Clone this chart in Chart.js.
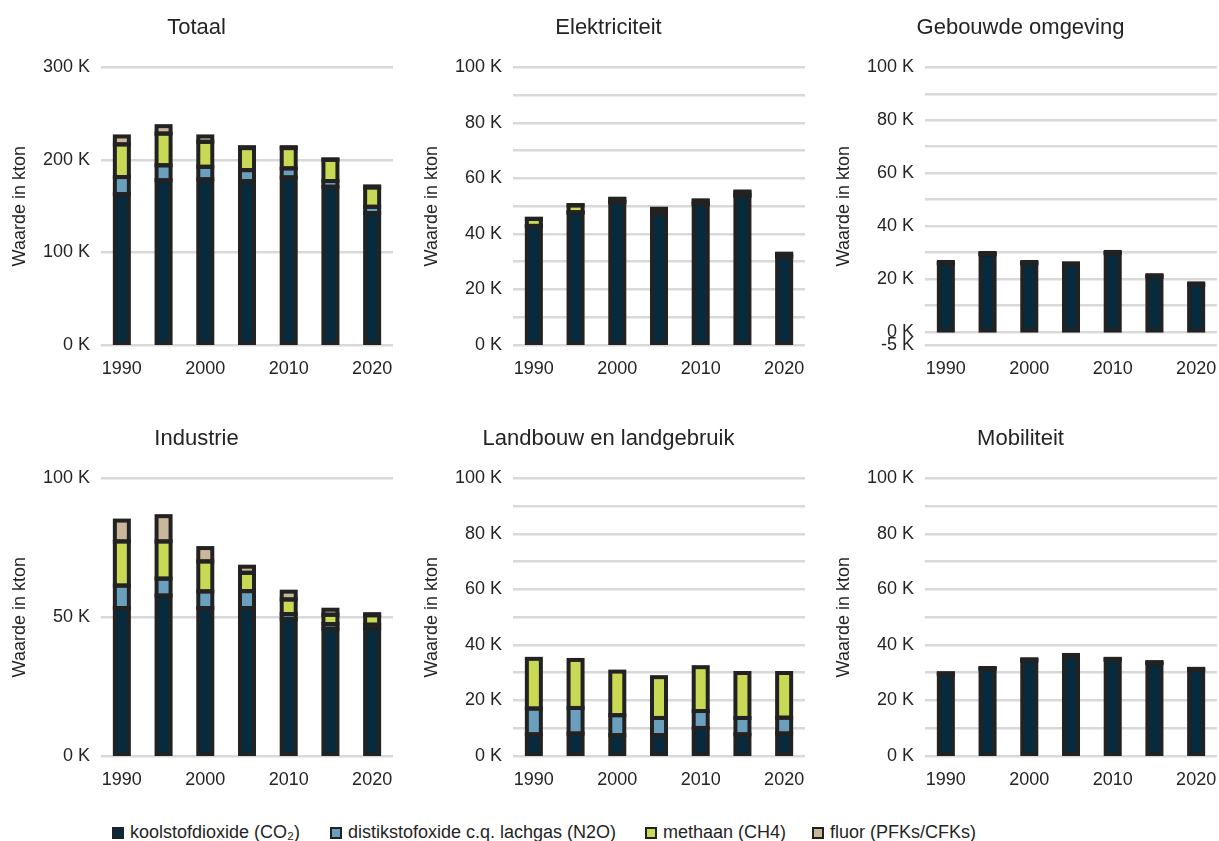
<!DOCTYPE html>
<html>
<head>
<meta charset="utf-8">
<script src="https://cdn.jsdelivr.net/npm/chart.js@4.4.1/dist/chart.umd.min.js"></script>
<style>
  html, body { margin: 0; padding: 0; background: #ffffff; overflow: hidden; width: 1219px; height: 841px; }
  .panel { position: absolute; width: 400px; height: 385px; }
  .legend-item { position: absolute; top: 822px; font: 18px 'Liberation Sans', Arial, sans-serif; color: #252423; white-space: nowrap; line-height: 20px; }
  .swatch { position: absolute; top: 5px; width: 12px; height: 12px; box-sizing: border-box; border: 2px solid #222222; }
</style>
</head>
<body>
<div class="panel" style="left:0px;top:0px"><canvas id="c0" width="400" height="385"></canvas></div>
<div class="panel" style="left:412px;top:0px"><canvas id="c1" width="400" height="385"></canvas></div>
<div class="panel" style="left:824px;top:0px"><canvas id="c2" width="400" height="385"></canvas></div>
<div class="panel" style="left:0px;top:411px"><canvas id="c3" width="400" height="385"></canvas></div>
<div class="panel" style="left:412px;top:411px"><canvas id="c4" width="400" height="385"></canvas></div>
<div class="panel" style="left:824px;top:411px"><canvas id="c5" width="400" height="385"></canvas></div>
<div id="legend"></div>
<script>
// ---------- categories & labels ----------
const years = ['1990', '1995', '2000', '2005', '2010', '2015', '2020'];
const xTickLabels = ['1990', '', '2000', '', '2010', '', '2020'];
const seriesNames = ['koolstofdioxide (CO₂)', 'distikstofoxide c.q. lachgas (N2O)', 'methaan (CH4)', 'fluor (PFKs/CFKs)'];
const seriesColors = ['#062b3f', '#6a9fbe', '#c9d855', '#c9b79c'];
const panelTitles = ['Totaal', 'Elektriciteit', 'Gebouwde omgeving', 'Industrie', 'Landbouw en landgebruik', 'Mobiliteit'];
const yAxisTitle = 'Waarde in kton';

// ---------- tick values & labels (in K = duizend kton) ----------
const ticksTotaal = [0, 100, 200, 300];
const tickLabelsTotaal = ['0 K', '100 K', '200 K', '300 K'];
const ticks100 = [0, 10, 20, 30, 40, 50, 60, 70, 80, 90, 100];
const tickLabels100 = ['0 K', '', '20 K', '', '40 K', '', '60 K', '', '80 K', '', '100 K'];
const ticksGebouwd = [-5, 0, 10, 20, 30, 40, 50, 60, 70, 80, 90, 100];
const tickLabelsGebouwd = ['-5 K', '0 K', '', '20 K', '', '40 K', '', '60 K', '', '80 K', '', '100 K'];
const ticksIndustrie = [0, 50, 100];
const tickLabelsIndustrie = ['0 K', '50 K', '100 K'];

// ---------- series values (in K kton) ----------
// Totaal
const totaalCO2    = [163, 178, 179, 177, 181.1, 171, 142.6];
const totaalN2O    = [18.5, 16.2, 13.6, 12, 9.8, 6.2, 6.8];
const totaalCH4    = [35.3, 34.3, 27, 23.8, 21.9, 23.0, 20.9];
const totaalFluor  = [8.6, 8.0, 5.8, 1.0, 1.0, 0.4, 1.1];
// Elektriciteit
const elekCO2      = [42.8, 47.7, 51.4, 47.3, 50.8, 53.8, 31.8];
const elekN2O      = [0.1, 0.1, 0.1, 0.1, 0.1, 0.1, 0.1];
const elekCH4      = [2.5, 2.5, 1.0, 1.4, 1.0, 1.1, 0.8];
const elekFluor    = [0.1, 0.1, 0.2, 0.3, 0.2, 0.3, 0.2];
// Gebouwde omgeving
const gebouwCO2    = [25.9, 29.3, 25.9, 25.4, 29.7, 20.9, 17.8];
const gebouwN2O    = [0.1, 0.1, 0.1, 0.1, 0.1, 0.1, 0.1];
const gebouwCH4    = [0.4, 0.4, 0.4, 0.4, 0.4, 0.4, 0.4];
const gebouwFluor  = [0, 0, 0, 0, 0, 0, 0];
// Industrie
const induCO2      = [53.3, 57.8, 53.3, 53.3, 49.3, 45.8, 45.8];
const induN2O      = [8.1, 6.1, 6.0, 6.1, 1.8, 1.7, 1.5];
const induCH4      = [15.9, 13.4, 10.8, 6.6, 5.3, 3.4, 3.4];
const induFluor    = [7.5, 9.1, 4.8, 2.2, 2.8, 1.8, 0.4];
// Landbouw en landgebruik
const landCO2      = [7.8, 8.1, 7.5, 7.5, 10.1, 7.8, 8.1];
const landN2O      = [9.3, 9.2, 7.2, 6.2, 6.1, 5.9, 5.7];
const landCH4      = [17.9, 17.3, 15.7, 14.7, 15.8, 16.2, 16.1];
const landFluor    = [0, 0, 0, 0, 0, 0, 0];
// Mobiliteit
const mobCO2       = [29.4, 31.3, 34.4, 36.0, 34.6, 33.4, 31.0];
const mobN2O       = [0.3, 0.3, 0.3, 0.3, 0.3, 0.3, 0.3];
const mobCH4       = [0.1, 0.1, 0.1, 0.1, 0.1, 0.1, 0.1];
const mobFluor     = [0, 0, 0, 0, 0, 0, 0];

// ---------- styling ----------
const FONT = "'Liberation Sans', Arial, sans-serif";
const TXT = '#252423';
const BORDER = '#222222';
const OUTLINE = 4;

// Outline every bar segment (stroke centred on the segment edges), clipped to the plot area
const outlinePlugin = {
  id: 'barOutline',
  afterDatasetsDraw(chart) {
    const { ctx, chartArea } = chart;
    ctx.save();
    ctx.beginPath();
    ctx.rect(chartArea.left, chartArea.top, chartArea.right - chartArea.left, chartArea.bottom - chartArea.top);
    ctx.clip();
    ctx.strokeStyle = BORDER;
    ctx.lineWidth = OUTLINE;
    chart.data.datasets.forEach((ds, i) => {
      const meta = chart.getDatasetMeta(i);
      meta.data.forEach(bar => {
        const { x, y, base, width } = bar.getProps(['x', 'y', 'base', 'width'], true);
        const h = Math.abs(base - y);
        if (h < 0.01) return;
        ctx.strokeRect(x - width / 2, Math.min(y, base), width, h);
      });
    });
    ctx.restore();
  }
};

const panels = [
  { id: 'c0', series: [totaalCO2, totaalN2O, totaalCH4, totaalFluor], min: 0, max: 300, ticks: ticksTotaal, labels: tickLabelsTotaal },
  { id: 'c1', series: [elekCO2, elekN2O, elekCH4, elekFluor], min: 0, max: 100, ticks: ticks100, labels: tickLabels100 },
  { id: 'c2', series: [gebouwCO2, gebouwN2O, gebouwCH4, gebouwFluor], min: -5, max: 100, ticks: ticksGebouwd, labels: tickLabelsGebouwd },
  { id: 'c3', series: [induCO2, induN2O, induCH4, induFluor], min: 0, max: 100, ticks: ticksIndustrie, labels: tickLabelsIndustrie },
  { id: 'c4', series: [landCO2, landN2O, landCH4, landFluor], min: 0, max: 100, ticks: ticks100, labels: tickLabels100 },
  { id: 'c5', series: [mobCO2, mobN2O, mobCH4, mobFluor], min: 0, max: 100, ticks: ticks100, labels: tickLabels100 }
];

panels.forEach((p, k) => {
  new Chart(document.getElementById(p.id), {
    type: 'bar',
    plugins: [outlinePlugin],
    data: {
      labels: years,
      datasets: seriesNames.map((name, i) => ({
        label: name,
        data: p.series[i],
        backgroundColor: seriesColors[i],
        borderWidth: 0,
        barPercentage: 0.336,
        categoryPercentage: 1
      }))
    },
    options: {
      responsive: false,
      animation: false,
      layout: { padding: { left: 0, right: 7, top: 0, bottom: 0 } },
      plugins: {
        legend: { display: false },
        tooltip: { enabled: false },
        title: {
          display: true,
          text: panelTitles[k],
          color: TXT,
          font: { family: FONT, size: 22, weight: 'normal' },
          padding: { top: 15, bottom: 26 }
        }
      },
      scales: {
        x: {
          stacked: true,
          grid: { display: false, drawTicks: false },
          border: { display: false },
          afterFit: s => { s.height = 40; s.paddingLeft = 0; s.paddingRight = 0; },
          ticks: {
            autoSkip: false, maxRotation: 0, minRotation: 0, padding: 13,
            color: TXT, font: { family: FONT, size: 18 },
            callback: (v, i) => xTickLabels[i]
          }
        },
        y: {
          stacked: true,
          min: p.min,
          max: p.max,
          afterBuildTicks: s => { s.ticks = p.ticks.map(v => ({ value: v })); },
          afterFit: s => { s.width = 101; },
          grid: { color: '#d9d9d9', lineWidth: 2.5, drawTicks: false },
          border: { display: false },
          ticks: {
            padding: 11, color: TXT, font: { family: FONT, size: 18 },
            callback: (v, i) => p.labels[i]
          },
          title: {
            display: true, text: yAxisTitle, color: TXT,
            font: { family: FONT, size: 18 },
            padding: { top: 9, bottom: 0 }
          }
        }
      }
    }
  });
});

// ---------- legend ----------
const legendX = [112, 330, 645, 812];
const legend = document.getElementById('legend');
seriesNames.forEach((name, i) => {
  const item = document.createElement('div');
  item.className = 'legend-item';
  item.style.left = legendX[i] + 'px';
  item.style.paddingLeft = '18px';
  const sw = document.createElement('span');
  sw.className = 'swatch';
  sw.style.left = '0px';
  sw.style.background = seriesColors[i];
  item.appendChild(sw);
  item.appendChild(document.createTextNode(name));
  legend.appendChild(item);
});
</script>
</body>
</html>
